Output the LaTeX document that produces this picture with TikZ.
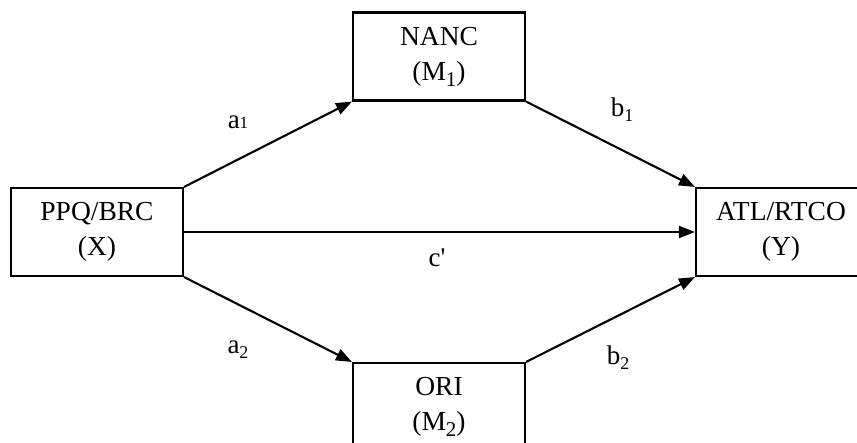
\documentclass[tikz,border=0pt]{standalone}
\usepackage{fontspec}
\setmainfont{Liberation Serif}
\usetikzlibrary{arrows.meta}
\newcommand{\bsub}[1]{\raisebox{-6pt}{\fontsize{21}{21}\selectfont #1}}
\newcommand{\lsub}[1]{\raisebox{-5pt}{\fontsize{18}{18}\selectfont #1}}
\begin{document}
\begin{tikzpicture}[x=1pt,y=-1pt,
  varbox/.style={draw,line width=2.1pt,minimum width=172pt,minimum height=88pt,inner sep=0pt,align=center,font=\fontsize{27.5}{35}\selectfont},
  conn/.style={line width=2.1pt,-{Triangle[length=16pt,width=12pt]}},
  lbl/.style={font=\fontsize{27}{32}\selectfont,inner sep=0pt}]
\useasboundingbox (0,0) rectangle (857,443);
\clip (0,0) rectangle (857,443);
\node[varbox] (X) at (97,232) {PPQ/BRC\\(X)};
\node[varbox] (M1) at (439,56.5) {NANC\\(M\bsub{1})};
\node[varbox,minimum width=170pt] (Y) at (781,232) {ATL/RTCO\\(Y)};
\node[varbox] (M2) at (439,407) {ORI\\(M\bsub{2})};
\draw[conn] (X.north east) -- (M1.south west);
\draw[conn] (M1.south east) -- (Y.north west);
\draw[conn] (X.east) -- (Y.west);
\draw[conn] (X.south east) -- (M2.north west);
\draw[conn] (M2.north east) -- (Y.south west);
\node[lbl] (la1) at (238,122) {a{\fontsize{17}{20}\selectfont 1}};
\node[lbl] (lb1) at (622,110) {b\lsub{1}};
\node[lbl] (la2) at (238,350) {a\lsub{2}};
\node[lbl] (lb2) at (618,358) {b\lsub{2}};
\node[lbl] (lc) at (437,258) {c\textquotesingle};
\end{tikzpicture}
\end{document}
